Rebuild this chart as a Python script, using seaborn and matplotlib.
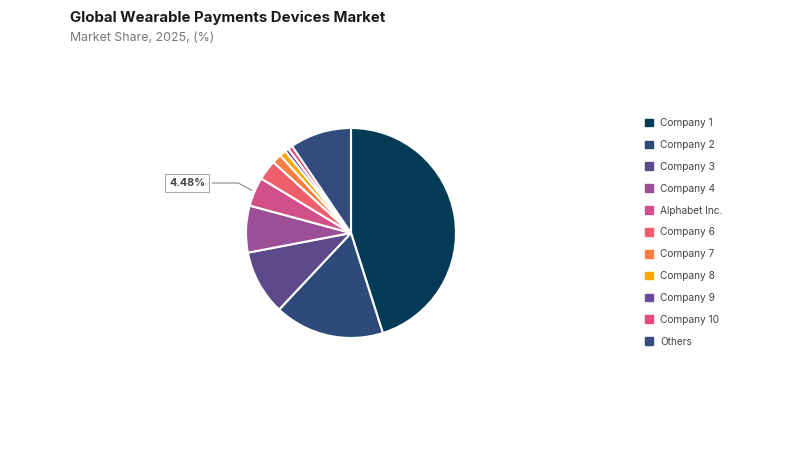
import numpy as np
import matplotlib
matplotlib.use("Agg")
import matplotlib.pyplot as plt
import seaborn as sns
from matplotlib.patches import Patch

# market share values (%)
companies = ["Company 1", "Company 2", "Company 3", "Company 4", "Alphabet Inc.",
             "Company 6", "Company 7", "Company 8", "Company 9", "Company 10", "Others"]
shares = [45.1, 16.9, 10.0, 7.2, 4.48, 3.1, 1.45, 1.0, 0.6, 0.7, 9.47]
colors = ["#033b56", "#2e4a7a", "#5d4a8a", "#9b4f96", "#d2508a", "#ef5f6b",
          "#f97c40", "#f9a800", "#6b4c9a", "#e8497a", "#344b7d"]
labelled = "Alphabet Inc."

sns.set_theme(style="white")
plt.rcParams["font.family"] = ["Inter", "DejaVu Sans"]

fig = plt.figure(figsize=(8, 4.5), dpi=100)
fig.patch.set_facecolor("white")

# pie axes: centre ~ (351, 233) px, radius ~105 px
ax = fig.add_axes([0.3075, 0.2489, 0.2625, 0.4667])
wedges, _ = ax.pie(shares, colors=colors, startangle=90, counterclock=False,
                   wedgeprops=dict(edgecolor="white", linewidth=1.5))
ax.set_xlim(-1, 1)
ax.set_ylim(-1, 1)
ax.set_aspect("equal")
ax.axis("off")

# callout for the labelled slice
i = companies.index(labelled)
w = wedges[i]
mid = np.deg2rad((w.theta1 + w.theta2) / 2)
ax.annotate(f"{shares[i]:.2f}%", xy=(np.cos(mid), np.sin(mid)), xytext=(-1.56, 0.476),
            ha="center", va="center", fontsize=7.8, fontweight="bold", color="#444444",
            bbox=dict(boxstyle="square,pad=0.35", fc="white", ec="#aaaaaa", lw=0.8),
            arrowprops=dict(arrowstyle="-", color="#888888", lw=0.8,
                            connectionstyle="angle,angleA=0,angleB=-28,rad=0"))

# title / subtitle
fig.text(70 / 800, 1 - 18 / 450, "Global Wearable Payments Devices Market",
         fontsize=10.8, fontweight="bold", color="#1a1a1a", va="center", ha="left")
fig.text(70 / 800, 1 - 38 / 450, "Market Share, 2025, (%)",
         fontsize=8.9, color="#777777", va="center", ha="left")

# legend
handles = [Patch(facecolor=c, edgecolor=c) for c in colors]
fig.legend(handles, companies, loc="upper left", bbox_to_anchor=(641 / 800, 1 - 114 / 450),
           frameon=False, fontsize=7.3, labelcolor="#444444", handlelength=0.8,
           handleheight=0.8, handletextpad=0.7, labelspacing=1.17, borderaxespad=0)

fig.savefig("out.png", dpi=100, facecolor="white")
